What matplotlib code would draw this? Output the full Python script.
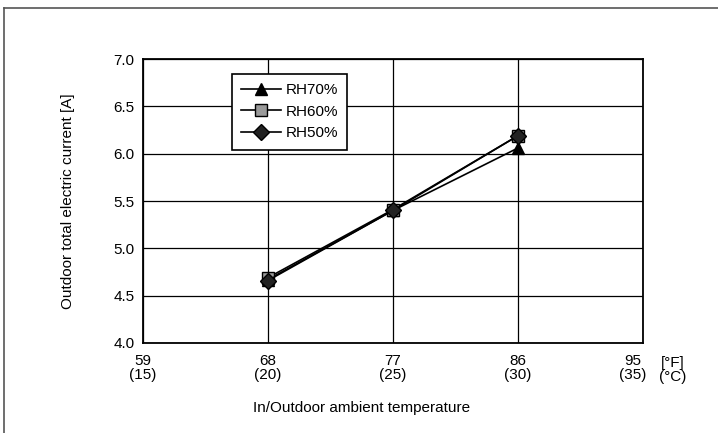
import matplotlib
matplotlib.use('Agg')
import matplotlib.pyplot as plt
from matplotlib.lines import Line2D
from matplotlib.transforms import ScaledTranslation

plt.rcParams['font.family'] = ['Liberation Sans', 'DejaVu Sans']

# data
temp_f = [68, 77, 86]
rh70 = [4.67, 5.40, 6.06]
rh60 = [4.69, 5.41, 6.19]
rh50 = [4.66, 5.40, 6.19]

xticks = [59, 68, 77, 86, 95]
xtick_labels = ['59\n(15)', '68\n(20)', '77\n(25)', '86\n(30)', '95\n(35)']
yticks = [4.0, 4.5, 5.0, 5.5, 6.0, 6.5, 7.0]

fs = 11

fig = plt.figure(figsize=(7.18, 4.33), dpi=100)
ax = fig.add_axes([143/718, 1 - 343/433, 500/718, 284/433])

# outer frame (top and left only)
fig.add_artist(Line2D([4/718, 4/718], [0, 1 - 8/433], color='#555555', lw=1.2))
fig.add_artist(Line2D([4/718, 1], [1 - 8/433, 1 - 8/433], color='#555555', lw=1.2))

ax.plot(temp_f, rh70, color='black', lw=1.2, marker='^', ms=9,
        mfc='black', mec='black', label='RH70%', zorder=3)
ax.plot(temp_f, rh60, color='black', lw=1.2, marker='s', ms=8.5,
        mfc='#9a9a9a', mec='black', label='RH60%', zorder=4)
ax.plot(temp_f, rh50, color='black', lw=1.2, marker='D', ms=8,
        mfc='#222222', mec='black', label='RH50%', zorder=5)

ax.set_xlim(59, 95)
ax.set_ylim(4.0, 7.0)
ax.set_xticks(xticks)
ax.set_xticklabels(xtick_labels, fontsize=fs, linespacing=1.0)
ax.set_yticks(yticks)
ax.set_yticklabels([f'{v:.1f}' for v in yticks], fontsize=fs)
ax.tick_params(axis='y', length=0, pad=6)
ax.tick_params(axis='x', length=0, pad=8)
# last label sits a little left of the right edge in the reference
last = ax.get_xticklabels()[-1]
last.set_transform(last.get_transform() + ScaledTranslation(-0.1, 0, fig.dpi_scale_trans))
ax.grid(True, color='black', lw=0.9)
ax.set_axisbelow(True)
for s in ax.spines.values():
    s.set_linewidth(1.3)

ax.set_ylabel('Outdoor total electric current [A]', fontsize=fs, labelpad=28)
fig.text(362/718, 1 - 408/433, 'In/Outdoor ambient temperature',
         fontsize=fs, ha='center', va='center')
fig.text(673/718, 1 - 370/433, '[°F]\n(°C)', fontsize=fs, ha='center',
         va='center', linespacing=1.0)

leg = ax.legend(loc='upper left', bbox_to_anchor=(89/500, 1 - 15/284),
                fontsize=fs, frameon=True, fancybox=False, framealpha=1,
                edgecolor='black', handlelength=2.6, handletextpad=0.3,
                borderpad=0.6, labelspacing=0.5, borderaxespad=0)
leg.get_frame().set_linewidth(1.2)

fig.savefig('out.png', dpi=100)
